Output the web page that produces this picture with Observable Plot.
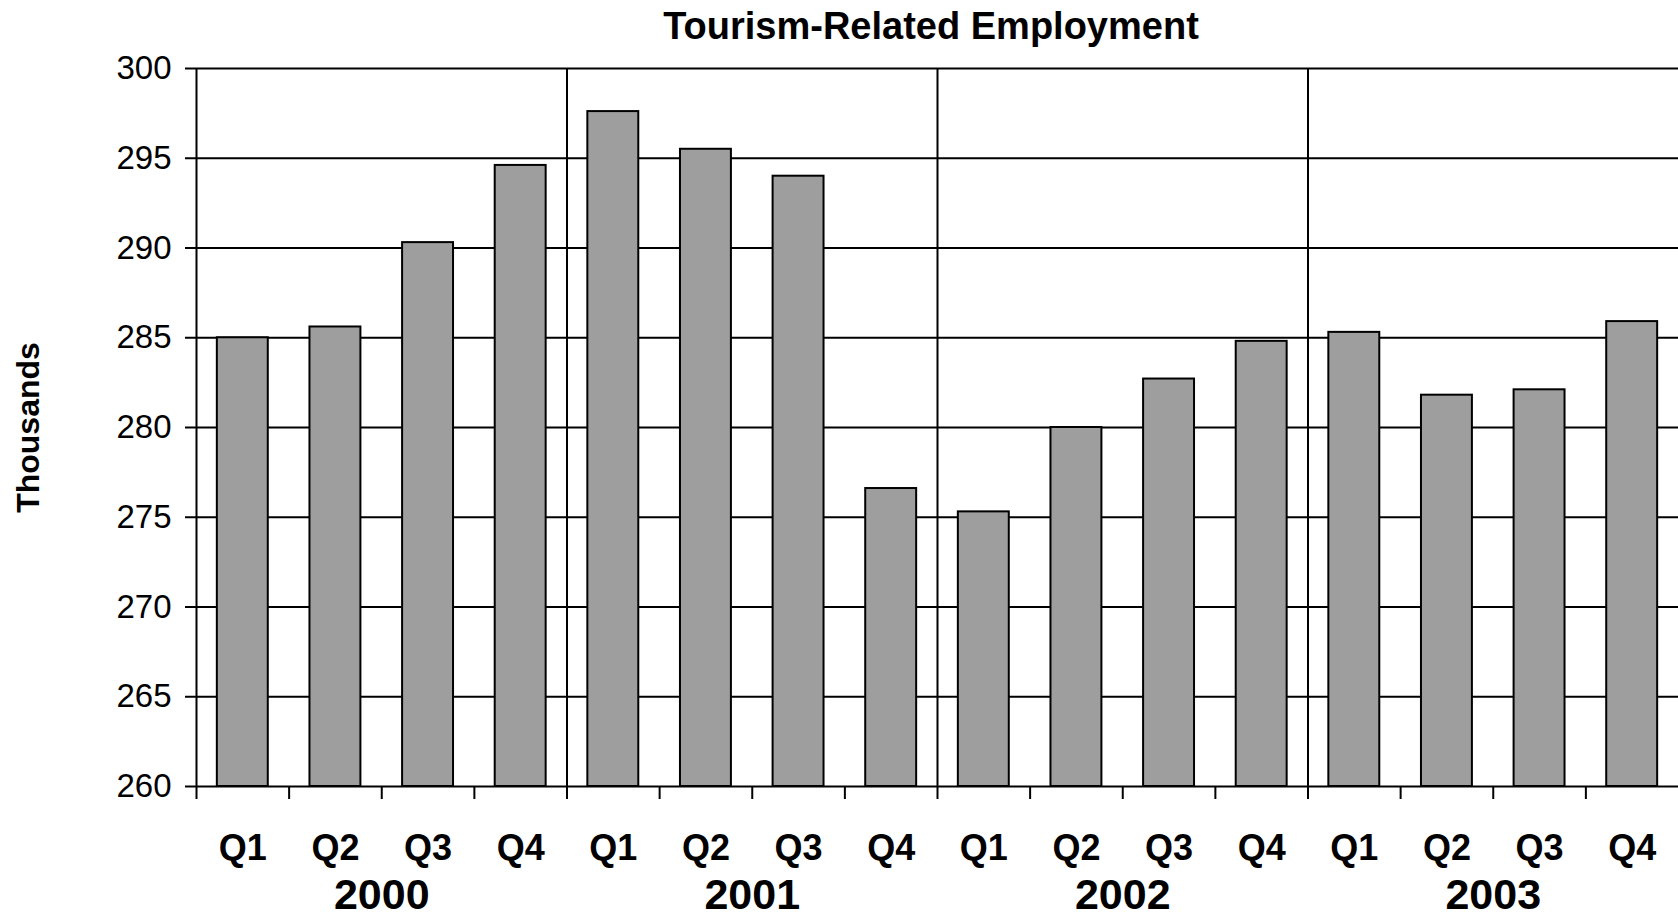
<!DOCTYPE html>
<html>
<head>
<meta charset="utf-8">
<script src="https://cdn.jsdelivr.net/npm/d3@7"></script>
<script src="https://cdn.jsdelivr.net/npm/@observablehq/plot@0.6"></script>
<style>
  html, body { margin: 0; padding: 0; background: white; }
  #title {
    margin-left: 196px; width: 1470px; height: 48px; line-height: 52px;
    text-align: center; font-family: "Liberation Sans", Arial, sans-serif;
    font-weight: bold; font-size: 38px; color: black;
  }
</style>
</head>
<body>
<div id="title">Tourism-Related Employment</div>
<div id="chart"></div>
<script>
const years = ["2000", "2001", "2002", "2003"];
const quarters = ["Q1", "Q2", "Q3", "Q4"];
const employment = [
  285.0, 285.6, 290.3, 294.6,
  297.6, 295.5, 294.0, 276.6,
  275.3, 280.0, 282.7, 284.8,
  285.3, 281.8, 282.1, 285.9
];
const yDomain = [260, 300];
const yTicks = [260, 265, 270, 275, 280, 285, 290, 295, 300];
const yLabel = "Thousands";

const data = years.flatMap((yr, i) => quarters.map((q, j) => ({
  key: yr + " " + q, year: yr, quarter: q, value: employment[i * 4 + j]
})));
const keys = data.map(d => d.key);

const W = 1678, H = 871, mL = 196, mR = 0, mT = 20, mB = 133;
const step = (W - mL - mR) / keys.length;

const chart = Plot.plot({
  width: W, height: H,
  marginLeft: mL, marginRight: mR, marginTop: mT, marginBottom: mB,
  style: { fontFamily: "'Liberation Sans', Arial, sans-serif", fontSize: "33px", color: "black", background: "white", overflow: "visible" },
  x: { type: "band", domain: keys, paddingInner: 0.45, paddingOuter: 0.225, round: false },
  y: { domain: yDomain },
  marks: [
    Plot.ruleY(yTicks, { stroke: "black", strokeWidth: 2 }),
    Plot.ruleX(data.filter(d => d.quarter === "Q1"), { x: "key", dx: -step / 2, stroke: "black", strokeWidth: 2 }),
    Plot.axisY({ ticks: yTicks, tickSize: 11, tickPadding: 14, strokeWidth: 2, label: null, fontSize: 33 }),
    Plot.axisX({ ticks: keys, tickSize: 13, tickFormat: () => "", dx: -step / 2, strokeWidth: 2, label: null }),
    Plot.barY(data, { x: "key", y1: yDomain[0], y2: "value", fill: "#9e9e9e", stroke: "black", strokeWidth: 2 }),
    Plot.text(data, { x: "key", text: "quarter", frameAnchor: "bottom", dy: 73, fontWeight: "bold", fontSize: 36 }),
    Plot.text(data.filter(d => d.quarter === "Q2"), { x: "key", text: "year", frameAnchor: "bottom", dx: step / 2, dy: 122, fontWeight: "bold", fontSize: 43 }),
    Plot.text([yLabel], { frameAnchor: "left", textAnchor: "middle", dx: -168, rotate: -90, fontWeight: "bold", fontSize: 32 })
  ]
});
document.getElementById("chart").appendChild(chart);
</script>
</body>
</html>
